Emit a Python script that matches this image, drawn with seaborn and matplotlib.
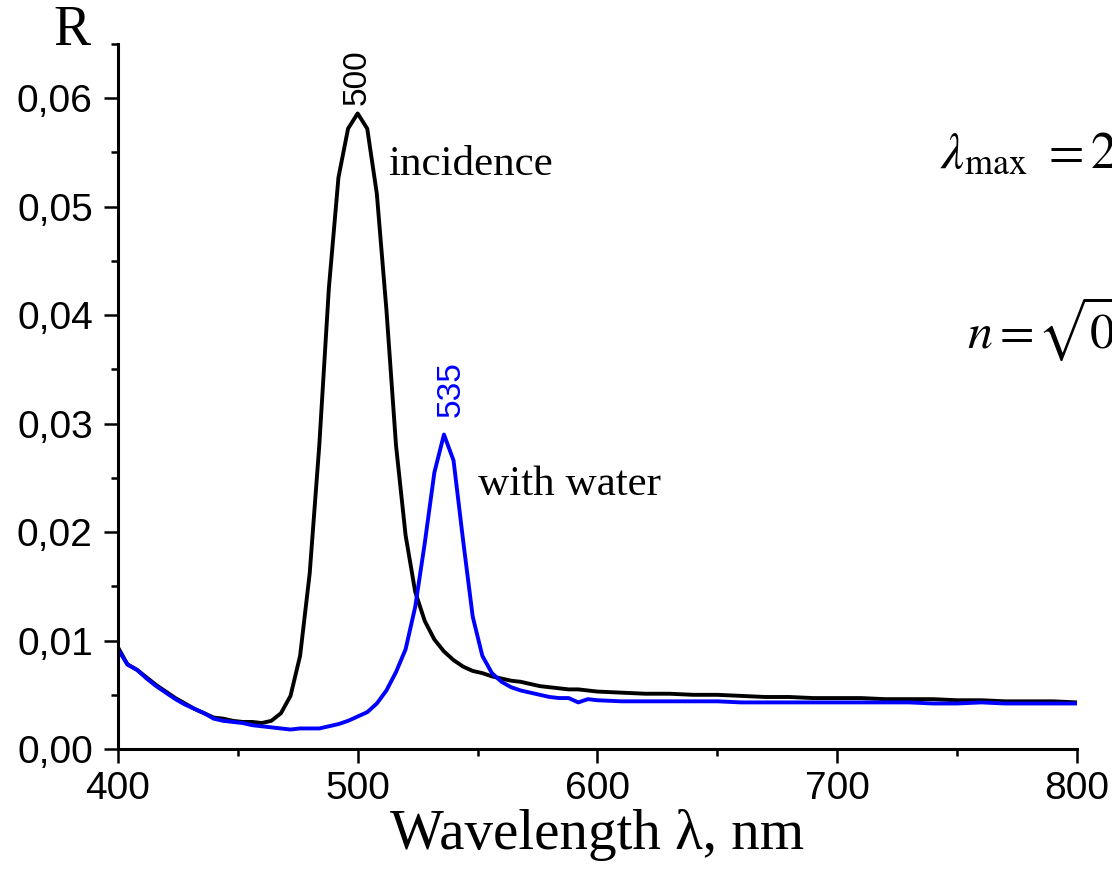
import pandas as pd
import matplotlib
matplotlib.use('Agg')
import matplotlib.pyplot as plt
import seaborn as sns
from matplotlib.ticker import MultipleLocator, FuncFormatter

# wavelength grids (nm)
wl_inc = [400, 404, 408, 412, 416, 420, 424, 428, 432, 436, 440, 444, 448, 452, 456,
          460, 464, 468, 472, 476, 480, 484, 488, 492, 496, 500, 504, 508, 512, 516,
          520, 524, 528, 532, 536, 540, 544, 548, 552, 556, 560, 564, 568, 572, 576,
          580, 584, 588, 592, 596, 600, 610, 620, 630, 640, 650, 660, 670, 680, 690,
          700, 710, 720, 730, 740, 750, 760, 770, 780, 790, 800]
r_inc = [.0094, .0078, .0073, .0066, .0059, .0053, .0047, .0042, .0037, .0033, .0029,
         .0028, .0026, .0025, .0025, .0024, .0026, .0033, .0049, .0086, .0162, .0280,
         .0425, .0527, .0572, .0586, .0572, .0512, .0405, .0280, .0197, .0145, .0118,
         .0101, .0090, .0082, .0076, .0072, .0070, .0067, .0065, .0063, .0062, .0060,
         .0058, .0057, .0056, .0055, .0055, .0054, .0053, .0052, .0051, .0051, .0050,
         .0050, .0049, .0048, .0048, .0047, .0047, .0047, .0046, .0046, .0046, .0045,
         .0045, .0044, .0044, .0044, .0043]

wl_water = wl_inc
r_water = [.0092, .0078, .0073, .0065, .0058, .0052, .0046, .0041, .0037, .0033, .0028,
           .0026, .0025, .0024, .0022, .0021, .0020, .0019, .0018, .0019, .0019, .0019,
           .0021, .0023, .0026, .0030, .0034, .0042, .0054, .0071, .0092, .0131, .0190,
           .0255, .0290, .0266, .0192, .0122, .0086, .0070, .0062, .0057, .0054, .0052,
           .0050, .0048, .0047, .0047, .0043, .0046, .0045, .0044, .0044, .0044, .0044,
           .0044, .0043, .0043, .0043, .0043, .0043, .0043, .0043, .0043, .0042, .0042,
           .0043, .0042, .0042, .0042, .0042]

series_names = ['incidence', 'with water']
series_colors = ['black', 'blue']
peak_text = ['500', '535']
peak_pos = [(500, 0.0594), (539, 0.0306)]

df = pd.concat([
    pd.DataFrame({'wl': wl_inc, 'R': r_inc, 'sample': series_names[0]}),
    pd.DataFrame({'wl': wl_water, 'R': r_water, 'sample': series_names[1]}),
])

sns.set_style('ticks', {'axes.edgecolor': 'black', 'text.color': 'black',
                        'axes.labelcolor': 'black', 'xtick.color': 'black',
                        'ytick.color': 'black'})
plt.rcParams['font.family'] = ['Liberation Sans', 'DejaVu Sans']
plt.rcParams['mathtext.fontset'] = 'stix'

fig = plt.figure(figsize=(11.12, 8.72), dpi=100)
ax = fig.add_axes([0.106, 0.141, 0.8625, 0.8085])

sns.lineplot(data=df, x='wl', y='R', hue='sample', palette=dict(zip(series_names, series_colors)),
             estimator=None, linewidth=2.8, legend=False, ax=ax)

ax.set_xlim(400, 800)
ax.set_ylim(0, 0.065)
ax.xaxis.set_major_locator(MultipleLocator(100))
ax.xaxis.set_minor_locator(MultipleLocator(50))
ax.yaxis.set_major_locator(MultipleLocator(0.01))
ax.yaxis.set_minor_locator(MultipleLocator(0.005))
ax.yaxis.set_major_formatter(FuncFormatter(lambda v, p: f'{v:.2f}'.replace('.', ',')))
ax.tick_params(which='major', direction='out', length=10, width=1.8, labelsize=28, pad=6)
ax.tick_params(which='minor', direction='out', length=5, width=1.8)
ax.tick_params(axis='y', pad=8)
sns.despine(ax=ax)
for s in ['left', 'bottom']:
    ax.spines[s].set_linewidth(2.2)

ax.set_xlabel('Wavelength λ, nm', family='Liberation Serif', fontsize=41, labelpad=1)
ax.set_ylabel('')
fig.text(0.048, 1 - 45 / 872, 'R', family='Liberation Serif', fontsize=40, va='baseline')

for t, (x, y), c in zip(peak_text, peak_pos, series_colors):
    ax.text(x, y, t, rotation=90, ha='center', va='bottom', fontsize=24, color=c)

ax.text(512.6, 0.0529, 'incidence', family='Liberation Serif', fontsize=31, va='baseline')
ax.text(550.2, 0.0234, 'with water', family='Liberation Serif', fontsize=31, va='baseline')

# formulas run off the right edge, as in the original figure
fig.text(0.845, 0.807, r'$\lambda_{\mathrm{max}}\ =2$', fontsize=37, va='baseline')
fig.text(0.870, 0.601, r'$n=$', fontsize=36, va='baseline')
fig.text(0.933, 0.601, r'$\sqrt{0.7}$', fontsize=36, va='baseline')

fig.savefig('out.png', dpi=100)
